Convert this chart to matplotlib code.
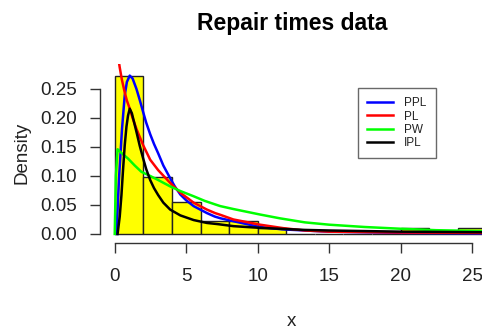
import matplotlib
matplotlib.use("Agg")
import matplotlib.pyplot as plt

plt.rcParams['font.family'] = ['Liberation Sans', 'DejaVu Sans']

# Histogram (density) of repair times, bins of width 2
bin_edges = [0, 2, 4, 6, 8, 10, 12, 14, 16, 18, 20, 22, 24, 26]
bin_density = [0.2717, 0.0978, 0.0543, 0.0217, 0.0217, 0.0109, 0.0, 0.0, 0.0, 0.0,
               0.0109, 0.0, 0.0109]

# Fitted density curves
ppl_x = [0.12, 0.3, 0.51, 0.70, 0.85, 1.05, 1.25, 1.52, 1.75, 1.99, 2.2, 2.48, 2.75,
         3.04, 3.4, 3.88, 4.2, 4.59, 5.0, 5.52, 6.45, 7.0, 7.4, 8.3, 10.17, 11.7, 13.3,
         15, 20, 25.8]
ppl_y = [0.0, 0.096, 0.181, 0.239, 0.262, 0.273, 0.268, 0.25, 0.231, 0.21, 0.192,
         0.172, 0.155, 0.139, 0.118, 0.096, 0.082, 0.068, 0.058, 0.048, 0.036, 0.030,
         0.027, 0.022, 0.012, 0.008, 0.006, 0.004, 0.002, 0.001]

pl_x = [0.3, 0.35, 0.5, 0.70, 0.85, 1.05, 1.25, 1.52, 1.99, 2.48, 3.04, 3.88, 4.59,
        5.52, 6.45, 7.02, 7.39, 8.3, 10.17, 11.8, 13.3, 15, 20, 25.8]
pl_y = [0.295, 0.287, 0.266, 0.244, 0.23, 0.216, 0.200, 0.181, 0.153, 0.128, 0.110,
        0.088, 0.071, 0.054, 0.042, 0.036, 0.033, 0.025, 0.016, 0.010, 0.006, 0.004,
        0.0025, 0.0018]

pw_x = [0.0, 0.08, 0.2, 0.5, 0.93, 1.4, 1.87, 2.48, 3.04, 3.88, 4.59, 5.52, 6.3,
        7.02, 7.39, 8.3, 10.17, 11.55, 13.3, 15, 17.5, 20, 22.5, 25.8]
pw_y = [0.0, 0.10, 0.146, 0.139, 0.13, 0.118, 0.107, 0.100, 0.093, 0.082, 0.074,
        0.065, 0.057, 0.051, 0.048, 0.043, 0.0335, 0.027, 0.020, 0.016, 0.012, 0.009,
        0.0065, 0.005]

ipl_x = [0.2, 0.35, 0.47, 0.58, 0.70, 0.82, 0.93, 1.05, 1.2, 1.52, 1.75, 1.99, 2.2,
         2.48, 2.75, 3.04, 3.4, 3.88, 4.59, 5.52, 6.45, 7.2, 8.3, 10.17, 13.3, 15, 20,
         25.8]
ipl_y = [0.0, 0.03, 0.067, 0.11, 0.153, 0.185, 0.204, 0.216, 0.208, 0.176, 0.152,
         0.13, 0.112, 0.093, 0.079, 0.067, 0.054, 0.042, 0.032, 0.024, 0.019, 0.017,
         0.0135, 0.0105, 0.007, 0.006, 0.004, 0.003]

series_names = ['PPL', 'PL', 'PW', 'IPL']
series_colors = ['#0000FF', '#FF0000', '#00FF00', '#000000']
x_ticks = [0, 5, 10, 15, 20, 25]
y_ticks = [0.00, 0.05, 0.10, 0.15, 0.20, 0.25]
y_tick_labels = ['0.00', '0.05', '0.10', '0.15', '0.20', '0.25']

W, H = 482, 332
fig = plt.figure(figsize=(W / 100, H / 100), dpi=100)
ax = fig.add_axes([100 / W, (H - 242.5) / H, (W - 100) / W, (242.5 - 64) / H])

widths = [bin_edges[i + 1] - bin_edges[i] for i in range(len(bin_density))]
ax.bar(bin_edges[:-1], bin_density, width=widths, align='edge',
       color='#FFFF00', edgecolor='#222222', linewidth=1.0, zorder=1)

curves = [(ppl_x, ppl_y), (pl_x, pl_y), (pw_x, pw_y), (ipl_x, ipl_y)]
for (cx, cy), name, col in zip(curves, series_names, series_colors):
    ax.plot(cx, cy, color=col, linewidth=1.8, label=name, zorder=3,
            solid_joinstyle='round')

ax.set_xlim(-1.03, 25.69)
ax.set_ylim(-0.0147, 0.293)

for s in ['top', 'right']:
    ax.spines[s].set_visible(False)
ax.spines['left'].set_bounds(0, 0.25)
ax.spines['bottom'].set_bounds(0, 25)
for s in ['left', 'bottom']:
    ax.spines[s].set_color('#333333')
    ax.spines[s].set_linewidth(1.0)

ax.set_xticks(x_ticks)
ax.set_yticks(y_ticks)
ax.set_yticklabels(y_tick_labels)
ax.tick_params(axis='both', direction='out', length=7.2, width=1.0, color='#333333',
               labelsize=13.5, labelcolor='#222222')
ax.tick_params(axis='y', pad=9.4)
ax.tick_params(axis='x', pad=11.5)

ax.set_xlabel('x', fontsize=13.5, labelpad=20, color='#222222')
ax.set_ylabel('Density', fontsize=13.5, labelpad=7, color='#222222')

fig.text(292.5 / W, (H - 30) / H, 'Repair times data', ha='center', va='baseline',
         fontsize=16.5, fontweight='bold', color='#000000')

leg = ax.legend(loc='upper left', bbox_to_anchor=(358 / W, (H - 88) / H),
                bbox_transform=fig.transFigure, fontsize=8.5, frameon=True,
                fancybox=False, borderaxespad=0, borderpad=0.8, labelspacing=0.1,
                handlelength=2.2, handletextpad=0.9)
leg.get_frame().set_edgecolor('#444444')
leg.get_frame().set_linewidth(1.0)
for t in leg.get_texts():
    t.set_color('#222222')

fig.savefig('out.png', dpi=100)
